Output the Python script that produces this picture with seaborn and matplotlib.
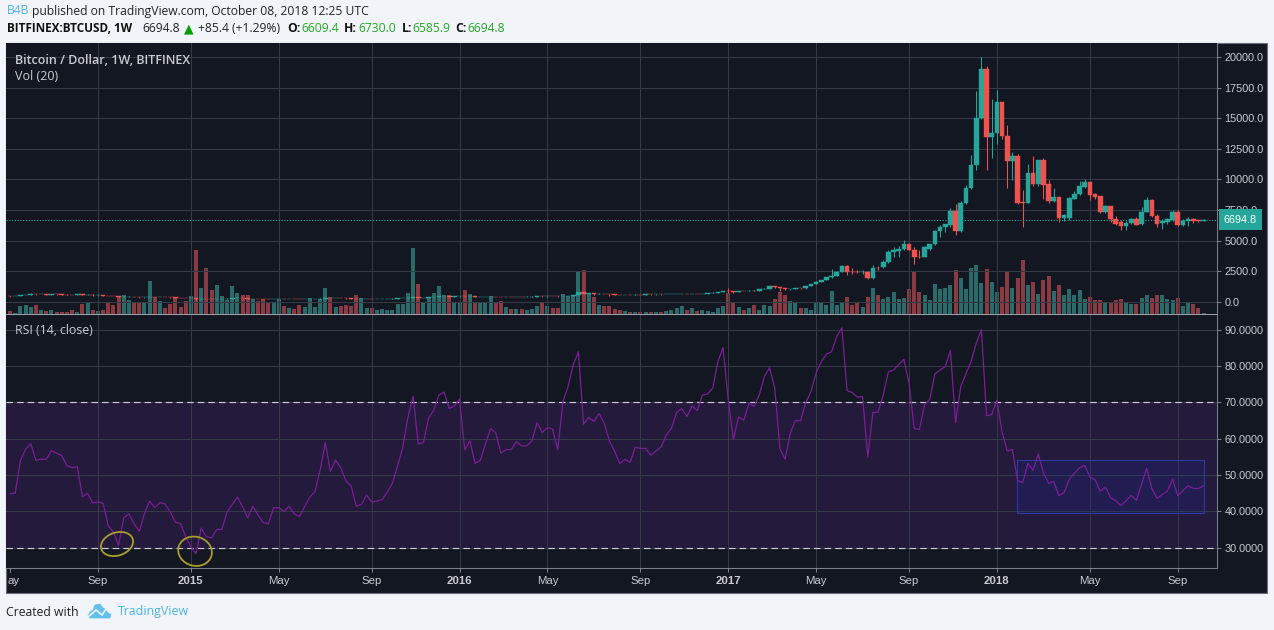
import numpy as np
import matplotlib
matplotlib.use("Agg")
import matplotlib.pyplot as plt
from matplotlib.lines import Line2D
from matplotlib.patches import Rectangle, Ellipse, Polygon
from matplotlib.transforms import IdentityTransform, blended_transform_factory
import pandas as pd
import seaborn as sns

closes = [435,445,525,575,650,610,640,590,600,595,590,585,575,600,585,590,520,525,500,480,
          475,400,410,415,385,350,360,395,380,385,375,360,320,315,290,295,210,255,225,220,
          235,250,260,280,290,270,250,255,245,235,225,235,240,235,240,235,225,230,245,250,
          260,290,280,290,280,275,265,230,240,245,240,245,250,255,260,275,300,340,390,330,
          340,380,410,440,455,420,435,445,430,460,380,385,395,410,400,385,410,405,415,410,
          420,425,440,430,445,440,435,455,500,580,760,660,680,630,665,650,610,590,570,575,
          570,585,575,600,595,605,600,610,625,640,650,635,650,640,655,720,745,780,900,890,
          820,880,870,920,915,1060,1080,1250,1230,1130,1020,1040,1100,1090,1310,1460,1650,1780,2000,2130,
          2470,2920,2470,2420,2400,2440,1915,2790,2780,
          3260,4100,4220,4350,4700,4270,3670,3640,4490,4680,5770,6120,6340,7430,5820,8080,9330,11160,14990,18990,
          13470,13820,16300,13520,11510,11890,8080,8080,10500,9600,11560,9550,8240,8540,6860,7070,8460,8840,9440,9770,
          8710,8570,7350,7810,6780,6390,6200,6450,6750,6310,7370,8300,7020,6340,6590,6750,7370,6260,6610,6750,
          6590,6610,6694.8]
first_open = 445
# from mid 2017 the opens don't always sit on the last close
late_opens = [2850,3260,4100,4130,4350,4700,4270,3670,3650,4350,4680,5770,6120,6260,7430,5820,8080,9330,11160,14990,
              18990,13470,13820,16300,13520,11510,11890,8140,8080,10500,9600,11560,9600,8240,8540,6860,6860,8400,8790,9390,
              9770,8790,8630,7350,7810,6800,6500,6200,6450,6750,6340,7370,8300,7020,6400,6530,6670,7370,6260,6560,
              6750,6690,6609.4]
highs = [460,460,540,590,680,665,660,650,620,615,610,600,590,625,610,610,595,540,535,510,
         490,480,430,430,420,390,380,420,400,400,390,380,365,330,320,320,300,270,260,240,
         245,265,270,300,305,295,275,265,260,250,240,245,250,245,250,245,240,240,255,260,
         270,315,300,300,295,285,280,265,250,255,250,255,260,265,270,285,320,350,500,400,
         345,390,420,465,470,465,445,460,460,475,465,395,405,420,420,410,420,425,425,425,
         430,435,450,445,455,450,445,465,510,590,780,780,700,690,680,675,660,620,590,590,
         585,595,590,610,610,615,615,620,635,650,660,665,660,660,665,740,760,790,920,1130,
         920,900,890,930,930,1070,1100,1290,1280,1240,1100,1060,1130,1120,1320,1480,1670,1800,2020,2660,
         2500,2990,3020,2780,2560,2620,2500,2980,2900,
         3450,4270,4435,4545,5030,4815,4435,4270,4545,4760,5900,6260,6390,7650,7970,8245,9580,11970,17220,20000,
         19240,16540,17280,16330,14420,12220,12050,9120,11290,11890,11620,11730,9930,9310,8540,7210,8570,9060,9850,10070,
         9770,8900,8680,7890,7860,6990,6670,6610,6880,6910,7750,8570,8380,7210,6800,6880,7480,7480,6800,6940,
         6880,6800,6730]
lows = [420,430,440,515,570,590,600,580,585,575,575,570,560,570,570,575,510,505,480,465,
        455,380,395,400,375,330,345,355,365,370,360,345,310,300,275,280,170,205,215,210,
        215,230,245,255,275,260,240,245,235,225,215,220,230,225,230,225,215,220,225,240,
        245,255,270,275,270,265,255,195,225,235,230,235,240,245,250,255,270,295,320,305,
        315,335,375,405,430,355,410,425,415,425,350,365,380,390,385,370,380,395,400,400,
        405,415,420,420,425,430,425,430,450,490,570,610,640,555,620,620,480,565,545,555,
        555,565,560,570,585,590,590,595,605,620,635,620,630,630,635,650,710,740,770,750,
        750,810,850,860,880,905,1060,1075,1160,890,960,1000,1030,1050,1080,1300,1450,1640,1770,1980,
        2070,2460,2220,2280,2350,2300,1830,1880,2620,
        2750,3130,3670,3670,4220,4190,3100,3540,3620,4270,4625,5300,5690,6120,5440,5710,7970,9250,10750,14910,
        10750,11750,12870,13330,9330,9930,7970,6120,8030,9500,9500,8380,8080,8160,6500,6610,6720,8380,8730,9330,
        8300,8410,7265,7290,6530,6290,5850,5850,6340,6260,6310,7320,6940,6120,5930,6390,6610,6200,6230,6200,
        6450,6500,6585.9]
volumes = [10,3,25,28,22,28,13,10,13,7,7,7,13,7,30,35,13,10,13,33,
           28,50,58,43,35,37,37,100,50,40,18,30,48,22,40,55,193,78,138,72,
           87,55,43,85,63,58,57,45,40,45,37,35,45,25,18,15,28,22,48,22,
           45,78,52,22,25,28,25,56,48,18,18,12,15,12,12,30,30,63,198,90,
           33,48,62,85,57,57,32,35,72,60,36,36,32,55,35,40,22,15,15,15,
           12,15,25,35,25,18,18,60,55,55,128,132,60,52,28,25,25,15,12,8,
           5,7,7,7,6,5,5,8,12,18,25,13,18,10,12,10,7,18,25,62,
           32,22,12,18,27,12,27,25,45,67,57,40,35,18,18,13,35,33,27,68,
           28,35,52,28,35,20,52,78,58,
           45,51,67,45,48,76,130,67,58,43,90,76,79,88,132,109,76,138,147,94,
           135,96,67,82,127,79,109,162,88,97,61,103,115,70,88,58,76,58,73,46,
           52,43,43,35,35,43,46,35,30,31,49,58,49,58,58,46,43,49,25,35,
           31,19,3]
rsi = [44.8,45,54,57,58.6,54,54.4,54.3,56.7,56,55.3,52.6,52,52.3,44,45,42.3,42.6,42.2,36,
       34.3,30.6,38.2,39.3,36.6,34.5,39.3,42.8,41,42.4,42,39.8,37,36.6,33,30.2,28.4,35.4,33,32.7,
       35,35,39.8,41.9,43.9,41.3,38.2,41.4,38.9,36.9,36.6,41,41,40,41.4,39.3,38.6,41.3,43.9,45.4,
       51.2,58.9,51,54.1,52,48.4,47,41.4,41.9,44.5,42.5,42.8,43.2,45.3,47.7,52.5,57.6,65.8,71.7,58.5,
       58.9,65.6,67.8,72,72.8,68.3,69,70.9,56.9,59.4,53.2,54,58.4,62.8,61.6,56,57,57,59.2,58,
       58,59.4,64.4,61.7,63.1,62.6,56.9,70.2,74.3,80.3,83.9,64,65.8,64.7,66.9,64.2,59.4,56.6,53.1,54.3,
       53.5,57.6,57.3,57.3,55.4,56.6,57.7,61,62.8,67.2,68.3,66.1,69,67.7,72,72.3,73.9,81.2,85.1,70.6,
       59.8,66,65.1,69.7,68.9,72,77.1,79.5,73.9,57.3,54.3,61.5,65,64.9,69.9,72.9,78,81.2,83.2,83.9,
       88.1,90.5,73.2,72.7,71.4,71.6,54.9,67.2,67.3,
       72,78.4,78.9,80.4,81.8,75.2,62.8,62.5,69.3,70.8,77.8,78.9,79.8,84.3,64.4,74.3,77.8,81.2,86.2,90,
       66.3,66.6,70.6,61.8,56.6,57,48.5,47.9,53.2,51.3,55.8,50.6,47.7,48.2,44.3,45.2,48.8,50.5,52,52.6,
       49.4,48.7,45.5,46.7,43.8,42.9,41.6,42.9,44.4,43,47.5,51.8,46.2,43.6,44.6,45.6,48.8,44.3,45.7,47,
       46.3,46.3,47]

tick_weeks = [17,35,52,70,87,104,122,139,156,174,191,209,226]
tick_labels = ["Sep","2015","May","Sep","2016","May","Sep","2017","May","Sep","2018","May","Sep"]
price_ticks = [0,2500,5000,7500,10000,12500,15000,17500,20000]
rsi_ticks = [30,40,50,60,70,80,90]
box_weeks = (194.9, 231)
box_rsi = (39.5, 54.1)
circle_points = [(20.7, 31.0, 33, 23, 18), (35.8, 29.0, 34, 29, -15)]

W, H = 1274, 630
BG = "#f1f4f9"
DARK = "#131722"
GRID = "#363a47"
AXIS = "#7b7f8a"
TXT = "#c9ccd3"
UP = "#26a69a"
DOWN = "#ef5350"

sns.set_theme(style="dark", rc={"axes.facecolor": DARK, "figure.facecolor": BG})
plt.rcParams["font.family"] = ["Liberation Sans", "DejaVu Sans"]


def px_rect(l, t, r, b):
    return [l / W, 1 - b / H, (r - l) / W, (b - t) / H]


def fig_text(x, y, s, **kw):
    kw.setdefault("family", ["Open Sans", "DejaVu Sans"])
    kw.setdefault("fontsize", 8.7)
    kw.setdefault("va", "center")
    fig.text(x / W, 1 - y / H, s, **kw)


fig = plt.figure(figsize=(W / 100, H / 100), dpi=100)
fig.add_artist(Rectangle((6 / W, 1 - 593 / H), 1261 / W, 550 / H, transform=fig.transFigure,
                         fc=DARK, ec="#6b6f7a", lw=0.8, zorder=-1))

ax_vol = fig.add_axes(px_rect(6, 43, 1217, 314))
ax_price = fig.add_axes(px_rect(6, 43, 1217, 314), sharex=ax_vol)
ax_rsi = fig.add_axes(px_rect(6, 314, 1217, 568), sharex=ax_vol)

weeks = np.arange(len(closes))
opens = np.array([first_open] + closes[:-1], dtype=float)
opens[169:] = late_opens
closes_arr = np.array(closes, dtype=float)
is_up = closes_arr >= opens

# volume sits under the candles on its own hidden scale
df = pd.DataFrame({"week": weeks, "volume": volumes, "dir": np.where(is_up, "up", "down")})
sns.barplot(data=df, x="week", y="volume", hue="dir", palette={"up": "#2a6b69", "down": "#8a3a43"},
            native_scale=True, dodge=False, saturation=1, width=0.8, legend=False,
            edgecolor="none", linewidth=0, ax=ax_vol)
ax_vol.set_ylim(0, 813)
ax_vol.set_xlim(-0.79, 233.6)
ax_vol.set_facecolor(DARK)
ax_vol.set_xlabel("")
ax_vol.set_ylabel("")
ax_vol.tick_params(left=False, labelleft=False, bottom=False, labelbottom=False)
for s in ax_vol.spines.values():
    s.set_visible(False)

ax_price.set_zorder(2)
ax_price.patch.set_alpha(0)
ax_rsi.set_zorder(1)

wick_colors = [UP if u else DOWN for u in is_up]
ax_price.vlines(weeks, lows, highs, colors=wick_colors, lw=0.75, zorder=3)
ax_price.bar(weeks, closes_arr - opens, bottom=opens, width=0.88, color=wick_colors,
             edgecolor=wick_colors, lw=0.3, zorder=4)
ax_price.axhline(closes[-1], color=UP, ls=(0, (1, 1.5)), lw=0.8, zorder=2)
ax_price.set_ylim(-1000, 21144)
ax_price.set_yticks(price_ticks)
ax_price.set_yticklabels([f"{v:.1f}" for v in price_ticks])
ax_price.annotate("6694.8", xy=(1.0, closes[-1]),
                  xycoords=blended_transform_factory(ax_price.transAxes, ax_price.transData),
                  xytext=(5, 0), textcoords="offset points",
                  color="white", fontsize=7.8, va="center", ha="left", zorder=10, annotation_clip=False,
                  bbox=dict(boxstyle="square,pad=0.5", fc=UP, ec=UP, lw=0))

sns.lineplot(x=weeks, y=rsi, color="#7b1e96", lw=0.9, ax=ax_rsi, zorder=5)
ax_rsi.axhspan(30, 70, color="#241a3c", lw=0, zorder=0)
for level in (30, 70):
    ax_rsi.axhline(level, color="#cfc9dd", ls=(0, (5.5, 3.5)), lw=0.85, zorder=4)
ax_rsi.set_ylim(24.4, 94.3)
ax_rsi.set_yticks(rsi_ticks)
ax_rsi.set_yticklabels([f"{v:.4f}" for v in rsi_ticks])
ax_rsi.add_patch(Rectangle((box_weeks[0], box_rsi[0]), box_weeks[1] - box_weeks[0], box_rsi[1] - box_rsi[0],
                           fc=(0.10, 0.16, 0.62, 0.22), ec="#2c3aa0", lw=0.8, zorder=3))

for ax in (ax_price, ax_rsi):
    ax.yaxis.tick_right()
    ax.set_xticks(tick_weeks)
    ax.grid(True, color=GRID, lw=0.75, zorder=1)
    ax.set_axisbelow(True)
    ax.tick_params(axis="y", length=3, width=0.75, color=AXIS, labelcolor=TXT, labelsize=7.8, pad=2.5, right=True)
    ax.set_xlabel("")
    ax.set_ylabel("")
    for s in ax.spines.values():
        s.set_visible(False)
        s.set_linewidth(0.75)
    ax.spines["right"].set_visible(True)
    ax.spines["right"].set_color(AXIS)
    ax.spines["bottom"].set_visible(True)
    ax.spines["bottom"].set_color(AXIS)
ax_price.spines["bottom"].set_color("#9a9da6")

ax_price.tick_params(axis="x", bottom=False, labelbottom=False)
ax_rsi.set_xticklabels(tick_labels)
ax_rsi.tick_params(axis="x", bottom=True, length=3, width=0.75, color=AXIS, labelcolor=TXT, labelsize=8.2, pad=2.5)
for lab in ax_rsi.get_xticklabels():
    if lab.get_text().isdigit():
        lab.set_fontweight("bold")
ax_rsi.tick_params(axis="x", labelbottom=True)
# May 2014 tick, its label is cut off by the panel edge
ax_rsi.plot([0, 0], [24.4, 23.3], color=AXIS, lw=0.75, clip_on=False)
fig_text(7, 581, "ay", family=["Liberation Sans"], fontsize=8.2, color=TXT)

fig.canvas.draw()
for x, y, w, h, ang in circle_points:
    ax_rsi.add_patch(Ellipse(ax_rsi.transData.transform((x, y)), w, h, angle=ang, fc="none", ec="#a8a02a",
                             lw=1.3, transform=IdentityTransform(), zorder=6))

fig_text(15, 61, "Bitcoin / Dollar, 1W, BITFINEX", color=TXT, fontsize=9, fontweight="semibold", zorder=20)
fig_text(15, 77, "Vol (20)", color=TXT, fontsize=9, zorder=20)
fig_text(15, 331, "RSI (14, close)", color=TXT, fontsize=8.8, zorder=20)

GREEN = "#22ab22"
fig_text(7, 11, "B4B", color="#4db4e6")
fig_text(32, 11, "published on TradingView.com, October 08, 2018 12:25 UTC", color="#222222")
fig_text(7, 29, "BITFINEX:BTCUSD, 1W", color="#111111", fontweight="bold", fontsize=8.5)
fig_text(142, 29, "6694.8", color="#222222")
fig_text(184, 29, "▲", color="#00a000", fontsize=9, family=["DejaVu Sans"])
fig_text(198, 29, "+85.4 (+1.29%)", color="#222222")
for x_l, lab, x_v, val in [(287, "O:", 301, "6609.4"), (344, "H:", 358, "6730.0"),
                           (402, "L:", 412, "6585.9"), (455, "C:", 467, "6694.8")]:
    fig_text(x_l, 29, lab, color="#111111", fontweight="bold")
    fig_text(x_v, 29, val, color=GREEN)

fig_text(6, 612, "Created with", color="#222222", fontsize=8.8)
fig_text(118, 612, "TradingView", color="#4db4e6", fontsize=8.9)
cloud = [(88, 616), (90, 612), (93, 610), (95, 605), (100, 604), (103, 608), (107, 610), (111, 614), (110, 618), (90, 618)]
fig.add_artist(Polygon([(a / W, 1 - b / H) for a, b in cloud], closed=True, transform=fig.transFigure,
                       fc="#63c0ea", ec="#63c0ea", lw=0.5))
zigzag = [(88, 617), (96, 610), (102, 615), (106, 609), (110, 613)]
fig.add_artist(Line2D([a / W for a, b in zigzag], [1 - b / H for a, b in zigzag], transform=fig.transFigure,
                      color=BG, lw=1.2))

fig.savefig("out.png", dpi=100, facecolor=BG)
